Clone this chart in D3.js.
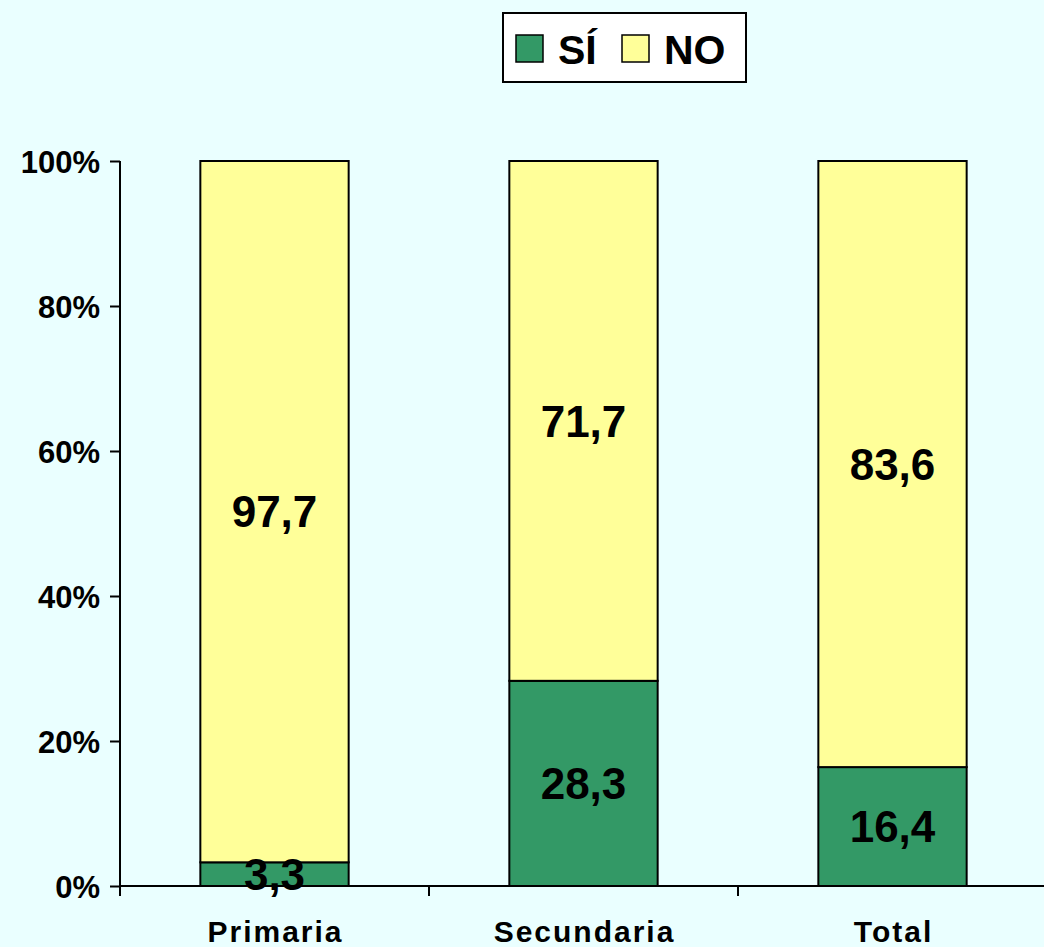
<!DOCTYPE html>
<meta charset="utf-8">
<html>
<head>
<script type="text/javascript" src="https://d3js.org/d3.v7.js"></script>
</head>
<body style="margin:0;background:#eaffff;">
<div id="plotArea"></div>
<script>
  // data
  const categories = ['Primaria', 'Secundaria', 'Total'];
  const siValues = [3.3, 28.3, 16.4];
  const noValues = [97.7, 71.7, 83.6];
  const yTicks = [0, 20, 40, 60, 80, 100];
  const seriesNames = ['SÍ', 'NO'];
  const seriesColors = ['#339966', '#ffff99'];

  const W = 1044, H = 947;
  const margin = {top: 161, left: 120, bottom: 61};
  const plotH = H - margin.top - margin.bottom;

  const svg = d3.select('#plotArea').append('svg')
    .attr('width', W).attr('height', H)
    .style('font-family', 'Liberation Sans, Arial, sans-serif')
    .style('font-weight', 'bold');

  svg.append('rect').attr('width', W).attr('height', H).attr('fill', '#eaffff');

  // 100% stacked: each bar normalised to its own total
  const rows = categories.map(function(c, i) {
    const tot = siValues[i] + noValues[i];
    return {cat: c, si: siValues[i] / tot * 100, no: noValues[i] / tot * 100,
            siLab: siValues[i], noLab: noValues[i]};
  });
  const stack = d3.stack().keys(['si', 'no'])(rows);

  const x = d3.scaleBand().domain(categories).range([margin.left, margin.left + 927]).paddingInner(0.52).paddingOuter(0.26);
  const xCat = d3.scaleBand().domain(categories).range([margin.left, margin.left + 927]);
  const y = d3.scaleLinear().domain([0, 100]).range([margin.top + plotH, margin.top]);
  const fmt = function(v) { return d3.format('.1f')(v).replace('.', ','); };

  // bars
  stack.forEach(function(layer, k) {
    svg.append('g').selectAll('rect').data(layer).enter().append('rect')
      .attr('x', function(d) { return x(d.data.cat); })
      .attr('width', x.bandwidth())
      .attr('y', function(d) { return y(d[1]); })
      .attr('height', function(d) { return y(d[0]) - y(d[1]); })
      .attr('fill', seriesColors[k])
      .attr('stroke', '#000').attr('stroke-width', 2);
  });

  // value labels
  stack.forEach(function(layer, k) {
    svg.append('g').selectAll('text').data(layer).enter().append('text')
      .attr('x', function(d) { return x(d.data.cat) + x.bandwidth() / 2; })
      .attr('y', function(d) { return (y(d[0]) + y(d[1])) / 2; })
      .attr('dy', '0.36em')
      .attr('text-anchor', 'middle')
      .style('font-size', '44px')
      .text(function(d) { return fmt(k == 0 ? d.data.siLab : d.data.noLab); });
  });

  // y axis
  const yAxis = svg.append('g').attr('transform', 'translate(' + margin.left + ',0)')
    .call(d3.axisLeft(y).tickValues(yTicks).tickSize(10).tickPadding(10).tickFormat(function(d) { return d + '%'; }));
  yAxis.select('.domain').attr('stroke-width', 2).attr('d', 'M0,' + y(100) + 'V' + (y(0) + 10));
  yAxis.selectAll('.tick line').attr('stroke-width', 2);
  yAxis.selectAll('text').style('font-size', '31px').style('font-family', 'Liberation Sans, Arial, sans-serif')
    .style('font-weight', 'bold').attr('fill', '#000').attr('dy', '0.36em');

  // x axis
  const xAxis = svg.append('g').attr('transform', 'translate(0,' + y(0) + ')');
  xAxis.append('line').attr('x1', margin.left).attr('x2', W).attr('stroke', '#000').attr('stroke-width', 2);
  xAxis.selectAll('.sep').data(categories).enter().append('line')
    .attr('x1', function(d) { return xCat(d) + xCat.bandwidth(); })
    .attr('x2', function(d) { return xCat(d) + xCat.bandwidth(); })
    .attr('y1', 0).attr('y2', 10).attr('stroke', '#000').attr('stroke-width', 2);
  xAxis.selectAll('.cat').data(categories).enter().append('text')
    .attr('x', function(d) { return x(d) + x.bandwidth() / 2 + 1; })
    .attr('y', 56)
    .attr('text-anchor', 'middle')
    .style('font-size', '30px')
    .style('letter-spacing', '2px')
    .text(function(d) { return d; });

  // legend
  const leg = svg.append('g');
  leg.append('rect').attr('x', 503).attr('y', 13).attr('width', 243).attr('height', 69)
    .attr('fill', '#fff').attr('stroke', '#000').attr('stroke-width', 2);
  const legX = [516, 622];
  seriesNames.forEach(function(n, i) {
    leg.append('rect').attr('x', legX[i]).attr('y', 35).attr('width', 27).attr('height', 27)
      .attr('fill', seriesColors[i]).attr('stroke', '#000').attr('stroke-width', 1.5);
    leg.append('text').attr('x', legX[i] + 42).attr('y', 64).style('font-size', '41px').text(n);
  });
</script>
</body>
</html>
